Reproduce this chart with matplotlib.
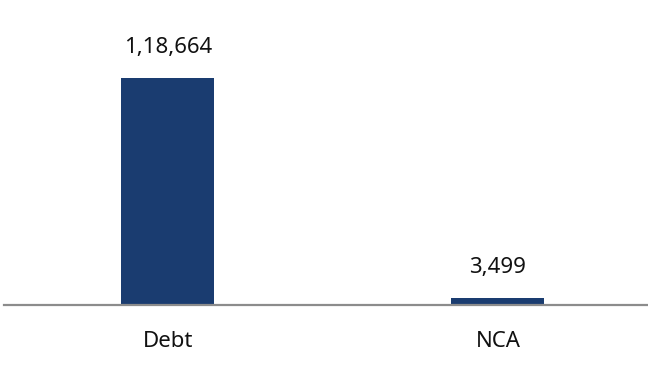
import matplotlib
matplotlib.use("Agg")
import matplotlib.pyplot as plt

categories = ["Debt", "NCA"]
values = [118664, 3499]
value_labels = ["1,18,664", "3,499"]

plt.rcParams['font.family'] = ['Noto Sans', 'DejaVu Sans']

fig = plt.figure(figsize=(6.48, 3.70), dpi=100)
ax = fig.add_axes([4/648, 65/370, 644/648, 305/370])
x = list(range(len(categories)))
bars = ax.bar(x, values, width=93/330, color="#1a3c70", zorder=2)
ax.set_xlim(-164/330, 1 + 150/330)
ax.set_ylim(0, 118664 * 305 / 227)

for s in ["top", "right", "left"]:
    ax.spines[s].set_visible(False)
ax.spines["bottom"].set_color("#8c8c8c")
ax.spines["bottom"].set_linewidth(1.6)
ax.set_yticks([])
ax.set_xticks(x)
ax.set_xticklabels(categories, fontsize=16, color="#111111")
ax.tick_params(axis="x", length=0, pad=19)

for xi, v, lab in zip(x, values, value_labels):
    ax.annotate(lab, (xi, v), xytext=(0, 31), textcoords="offset pixels",
                ha="center", va="center", fontsize=16, color="#111111")

fig.savefig("out.png", dpi=100)
